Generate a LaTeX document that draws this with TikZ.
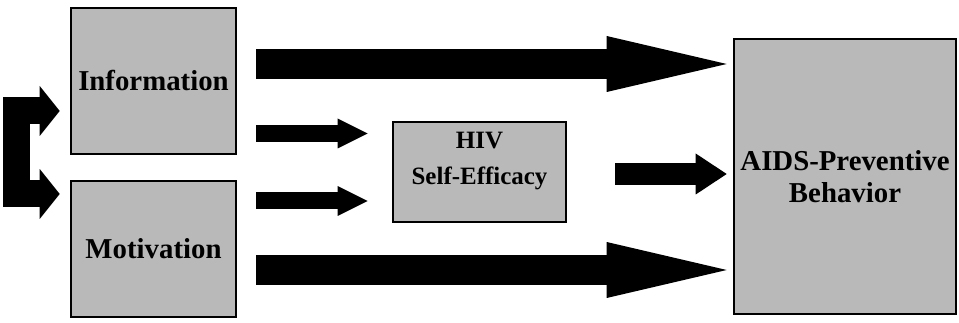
\documentclass[tikz,border=0pt]{standalone}
\usepackage{fontspec}
\setmainfont{Liberation Serif}
\usetikzlibrary{arrows.meta,calc}

\begin{document}
\begin{tikzpicture}[x=0.02cm,y=-0.02cm,
    box/.style={draw=black,line width=1.5pt,fill=gray!55,align=center,inner sep=0pt,
      font=\bfseries\fontsize{16.4}{18.5}\selectfont},
    bigarrow/.style={line width=0.6cm,shorten >=0.12cm,
      -{Triangle[length=2.4cm,width=1.12cm,line width=0pt]}},
    smallarrow/.style={line width=0.34cm,shorten >=0.48cm,
      -{Triangle[length=0.6cm,width=0.6cm,line width=0pt]}},
    midarrow/.style={line width=0.44cm,shorten >=0.12cm,
      -{Triangle[length=0.62cm,width=0.82cm,line width=0pt]}},
    loopbrace/.style={line width=0.54cm,line join=miter,
      {Triangle[length=0.4cm,width=1.0cm,line width=0pt]}-{Triangle[length=0.4cm,width=1.0cm,line width=0pt]}}]
    \useasboundingbox (0,0) rectangle (959,323);
    % Boxes
    \node[box,minimum width=3.3cm,minimum height=2.92cm] (info) at (153.5,81) {Information};
    \node[box,minimum width=3.3cm,minimum height=2.72cm] (motiv) at (153.5,249) {Motivation};
    \node[box,minimum width=3.46cm,minimum height=2.0cm,
      label={[font=\bfseries\fontsize{14.2}{20.4}\selectfont,align=center,yshift=0.22cm]center:HIV\\Self-Efficacy}] (hiv) at (479.5,172) {};
    \node[box,minimum width=4.44cm,minimum height=5.5cm] (aids) at (845,176.5) {AIDS-Preventive\\Behavior};
    % Arrows
    \draw[loopbrace] ($(info.west)+(-10,30)$) -- ++(-43,0) |- ($(motiv.west)+(-10,-55)$);
    \draw[bigarrow] ($(info.east)+(19,-17)$) coordinate (a1) -- (a1 -| aids.west);
    \draw[smallarrow] ($(info.east)+(19,52.5)$) coordinate (a2) -- (a2 -| hiv.west);
    \draw[smallarrow] ($(motiv.east)+(19,-48)$) coordinate (a3) -- (a3 -| hiv.west);
    \draw[midarrow] ($(hiv.east)+(48,2)$) coordinate (a4) -- (a4 -| aids.west);
    \draw[bigarrow] ($(motiv.east)+(19,21)$) coordinate (a5) -- (a5 -| aids.west);
\end{tikzpicture}
\end{document}
